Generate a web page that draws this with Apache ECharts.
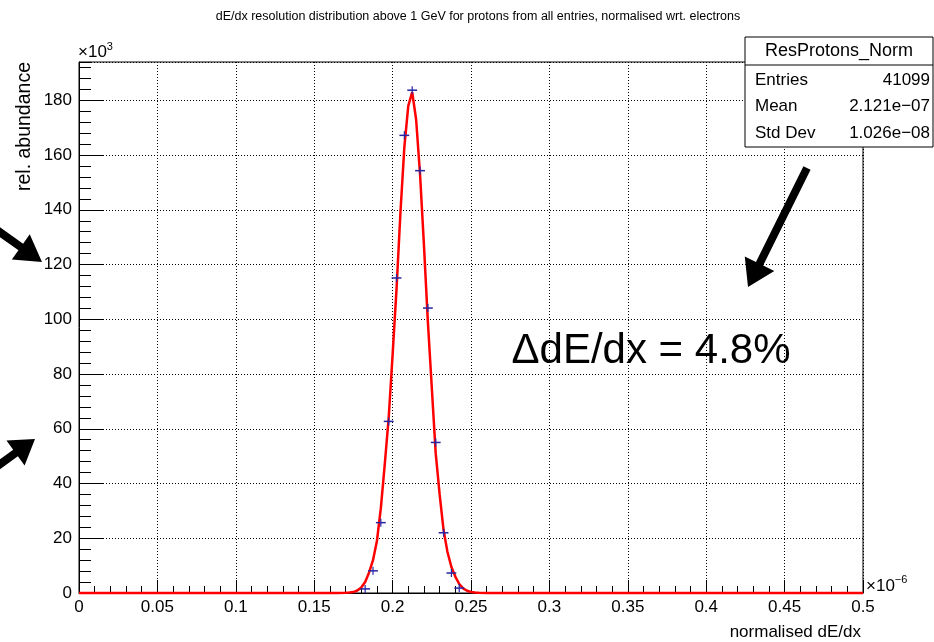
<!DOCTYPE html>
<html><head><meta charset="utf-8">
<script src="https://cdn.jsdelivr.net/npm/echarts@6/dist/echarts.min.js"></script>
<style>html,body{margin:0;padding:0;background:#fff}#c{width:934px;height:642px}</style>
</head><body><div id="c"></div>
<script>
// Histogram bins (x in units of 1e-6, y in units of 1e3)
const binWidth = 0.005;
const binCenters = [0.1825,0.1875,0.1925,0.1975,0.2025,0.2075,0.2125,0.2175,0.2225,0.2275,0.2325,0.2375,0.2425];
const binValues  = [1.5,8.1,25.7,62.7,115.1,167.2,183.7,154.3,104.1,55.0,22.0,7.3,1.8];
// Fit curve
const fitX = [0,0.165,0.170,0.1725,0.175,0.1775,0.180,0.1825,0.185,0.1875,0.190,0.1925,0.195,0.1975,0.200,0.2025,0.205,0.2075,0.210,0.2125,0.215,0.2175,0.220,0.2225,0.225,0.2275,0.230,0.2325,0.235,0.2375,0.240,0.2425,0.245,0.2475,0.250,0.2525,0.255,0.260,0.5];
const fitY = [0,0,0.05,0.15,0.35,0.9,2.0,4.0,7.5,12,19,31,47,64,87,111,139,163,178,183,173,153,127,99,75,51,36,23,15,9.5,6,3.3,1.7,0.8,0.35,0.15,0.05,0,0];
// Axes
const xRange = [0, 0.5], xInterval = 0.05;
const yRange = [0, 194], yInterval = 20, yMinorInterval = 4;
const titleText = 'dE/dx resolution distribution above 1 GeV for protons from all entries, normalised wrt. electrons';
const statsTitle = 'ResProtons_Norm';
const statsLabels = ['Entries','Mean','Std Dev'];
const statsValues = ['41099','2.121e\u221207','1.026e\u221208'];
const annotation = '\u0394dE/dx = 4.8%';

const FONT = '"Liberation Sans", Arial, Helvetica, sans-serif';
const chart = echarts.init(document.getElementById('c'), null, {renderer:'canvas'});

function arrow(x1,y1,x2,y2,shaftW,headL,headW){
  const dx=x2-x1, dy=y2-y1, L=Math.hypot(dx,dy);
  const ux=dx/L, uy=dy/L, nx=-uy, ny=ux;
  const bx=x2-ux*headL, by=y2-uy*headL;
  return {type:'polygon', silent:true, z:100, shape:{points:[
    [x1+nx*shaftW/2, y1+ny*shaftW/2],
    [bx+nx*shaftW/2, by+ny*shaftW/2],
    [bx+nx*headW/2, by+ny*headW/2],
    [x2,y2],
    [bx-nx*headW/2, by-ny*headW/2],
    [bx-nx*shaftW/2, by-ny*shaftW/2],
    [x1-nx*shaftW/2, y1-ny*shaftW/2]
  ]}, style:{fill:'#000'}};
}

const statsX = 745, statsY = 37, statsW = 188, statsH = 110;
const statsGraphic = [
  {type:'rect', z:100, shape:{x:statsX,y:statsY,width:statsW,height:statsH}, style:{fill:'#fff', stroke:'#000', lineWidth:1}},
  {type:'line', z:101, shape:{x1:statsX,y1:65,x2:statsX+statsW,y2:65}, style:{stroke:'#000', lineWidth:1}},
  {type:'text', z:101, x:statsX+statsW/2, y:51, style:{text:statsTitle, font:'18px '+FONT, fill:'#000', align:'center', verticalAlign:'middle'}}
];
statsLabels.forEach((l,i)=>{
  const yy = 80 + i*26.5;
  statsGraphic.push({type:'text', z:101, x:755, y:yy, style:{text:l, font:'17px '+FONT, fill:'#000', align:'left', verticalAlign:'middle'}});
  statsGraphic.push({type:'text', z:101, x:930, y:yy, style:{text:statsValues[i], font:'17px '+FONT, fill:'#000', align:'right', verticalAlign:'middle'}});
});

const option = {
  animation:false,
  backgroundColor:'#fff',
  grid:{left:79, right:71, top:62, bottom:49, show:true, borderColor:'#000', borderWidth:1, backgroundColor:'transparent'},
  xAxis:[{type:'value', min:xRange[0], max:xRange[1], interval:xInterval,
    axisLine:{show:true, onZero:false, lineStyle:{color:'#000', width:1}},
    axisTick:{show:true, inside:true, length:13, lineStyle:{color:'#000', width:1}},
    minorTick:{show:true, splitNumber:5, length:7, lineStyle:{color:'#000', width:1}},
    axisLabel:{color:'#000', fontSize:17, fontFamily:FONT, margin:6},
    splitLine:{show:true, lineStyle:{color:'#000', width:1, type:[1,2]}}
  }],
  yAxis:[{type:'value', min:yRange[0], max:yRange[1], interval:yInterval, position:'left',
    axisLine:{show:true, onZero:false, lineStyle:{color:'#000', width:1}},
    axisTick:{show:true, inside:true, length:25, lineStyle:{color:'#000', width:1}},
    axisLabel:{color:'#000', fontSize:17, fontFamily:FONT, margin:7, showMaxLabel:false},
    splitLine:{show:true, lineStyle:{color:'#000', width:1, type:[1,2]}}
  },{type:'value', min:yRange[0], max:yRange[1], interval:yMinorInterval, position:'left', offset:0,
    axisLine:{show:false}, axisLabel:{show:false}, splitLine:{show:false},
    axisTick:{show:true, inside:true, length:12, lineStyle:{color:'#000', width:1}}
  }],
  series:[
    {type:'line', data:fitX.map((x,i)=>[x,fitY[i]]), showSymbol:false, symbol:'none', smooth:false,
     lineStyle:{color:'#ff0000', width:2.5}, z:3, clip:false},
    {type:'custom', data:binCenters.map((x,i)=>[x,binValues[i]]), z:4,
     renderItem:function(params, api){
       const x=api.value(0), y=api.value(1);
       const p0=api.coord([x-binWidth/2,y]), p1=api.coord([x+binWidth/2,y]), c=api.coord([x,y]);
       return {type:'group', children:[
         {type:'line', shape:{x1:p0[0]-1,y1:p0[1],x2:p1[0]+1,y2:p1[1]}, style:{stroke:'#2525a5', lineWidth:1.5}},
         {type:'line', shape:{x1:c[0],y1:c[1]-4,x2:c[0],y2:c[1]+4}, style:{stroke:'#2525a5', lineWidth:1.2}}
       ]};
     }}
  ],
  graphic:[
    {type:'text', x:478, y:17, style:{text:titleText, font:'12.5px '+FONT, fill:'#000', align:'center', verticalAlign:'middle'}},
    {type:'text', x:78, y:52, style:{text:'\u00d710{s|3}', font:'17px '+FONT, fill:'#000', align:'left', verticalAlign:'middle',
      rich:{s:{fontSize:11, fontFamily:FONT, verticalAlign:'top', padding:[0,0,10,0]}}}},
    {type:'text', x:866, y:586, style:{text:'\u00d710{s|\u22126}', font:'17px '+FONT, fill:'#000', align:'left', verticalAlign:'middle',
      rich:{s:{fontSize:11, fontFamily:FONT, padding:[0,0,12,0]}}}},
    {type:'text', x:861, y:632, style:{text:'normalised dE/dx', font:'17px '+FONT, fill:'#000', align:'right', verticalAlign:'middle'}},
    {type:'text', x:25, y:62, rotation:Math.PI/2, style:{text:'rel. abundance', font:'19.5px '+FONT, fill:'#000', align:'right', verticalAlign:'middle'}},
    {type:'text', x:651, y:351, style:{text:annotation, font:'42px '+FONT, fill:'#000', align:'center', verticalAlign:'middle'}},
    arrow(-6,228,42,262,8,26,31),
    arrow(-8,470,35,439,8,24,31),
    arrow(807,168,748,287,8,26,33)
  ].concat(statsGraphic)
};
chart.setOption(option);
</script></body></html>
